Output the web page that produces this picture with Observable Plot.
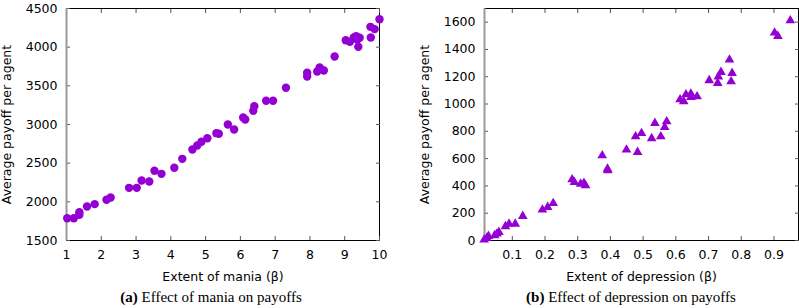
<!DOCTYPE html>
<html>
<head>
<meta charset="utf-8">
<script src="https://cdn.jsdelivr.net/npm/d3@7"></script>
<script src="https://cdn.jsdelivr.net/npm/@observablehq/plot@0.6"></script>
<style>
  html, body { margin: 0; padding: 0; background: #fff; }
  #wrap { position: relative; width: 799px; height: 308px; overflow: hidden; }
  .panel { position: absolute; top: 0; }
  .cap { position: absolute; font-family: "Liberation Serif", "Times New Roman", serif; font-size: 15px; color: #000; white-space: nowrap; transform: translateX(-50%); top: 289px; }
</style>
</head>
<body>
<div id="wrap">
  <div id="pa" class="panel" style="left:0px"></div>
  <div id="pb" class="panel" style="left:400px"></div>
  <div class="cap" style="left:211px"><b>(a)</b> Effect of mania on payoffs</div>
  <div class="cap" style="left:631px"><b>(b)</b> Effect of depression on payoffs</div>
</div>
<script>
// Panel (a): extent of mania vs average payoff
const maniaX = [1.02, 1.21, 1.37, 1.37, 1.59, 1.81, 2.15, 2.27, 2.80, 3.02, 3.16, 3.38, 3.53, 3.73, 4.10, 4.33, 4.62, 4.76, 4.88, 5.05, 5.31, 5.38,
  5.64, 5.82, 6.08, 6.14, 6.37, 6.40, 6.74, 6.94, 7.31, 7.92, 7.92, 8.21, 8.28, 8.40, 8.71, 9.03, 9.15, 9.26, 9.33, 9.43, 9.36, 9.39, 9.74, 9.86, 9.75, 10.0];
const maniaY = [1788, 1788, 1866, 1832, 1940, 1970, 2026, 2056, 2181, 2181, 2276, 2263, 2401, 2362, 2440, 2556, 2677, 2728, 2776, 2823, 2888, 2880,
  3000, 2935, 3091, 3065, 3177, 3237, 3307, 3307, 3475, 3621, 3670, 3686, 3737, 3698, 3879, 4090, 4069, 4125, 4142, 4121, 4099, 4005, 4263, 4233, 4125, 4362];
const maniaXTicks = [1, 2, 3, 4, 5, 6, 7, 8, 9, 10];
const maniaYTicks = [1500, 2000, 2500, 3000, 3500, 4000, 4500];

// Panel (b): extent of depression vs average payoff
const depX = [0.950, 0.902, 0.912, 0.764, 0.772, 0.769, 0.738, 0.730, 0.728, 0.702, 0.665, 0.646, 0.646, 0.631, 0.624, 0.613,
  0.572, 0.566, 0.554, 0.536, 0.526, 0.495, 0.477, 0.449, 0.483, 0.375, 0.391, 0.392, 0.283, 0.290, 0.309, 0.319, 0.324,
  0.225, 0.208, 0.192, 0.132, 0.109, 0.090, 0.079, 0.059, 0.053, 0.046, 0.027, 0.022, 0.014];
const depY = [1612, 1522, 1497, 1324, 1226, 1165, 1234, 1200, 1153, 1173, 1055, 1075, 1050, 1070, 1019, 1033,
  872, 830, 762, 860, 748, 786, 762, 665, 647, 623, 525, 513, 447, 427, 415, 420, 403,
  273, 244, 225, 178, 122, 122, 103, 61, 49, 37, 32, 17, 5];
const depXTicks = [0.1, 0.2, 0.3, 0.4, 0.5, 0.6, 0.7, 0.8, 0.9];
const depYTicks = [0, 200, 400, 600, 800, 1000, 1200, 1400, 1600];

const yLabel = "Average payoff per agent";
const purple = "#9400d3";
const font = "DejaVu Sans, sans-serif";

function panel({xs, ys, xd, yd, xt, yt, xfmt, xlabel, symbol, r, width, ml, mr}) {
  const data = xs.map((x, i) => ({x, y: ys[i]}));
  const svg = Plot.plot({
    width, height: 285,
    marginTop: 8, marginBottom: 45, marginLeft: ml, marginRight: mr,
    style: {fontFamily: font, fontSize: "12.5px", color: "#000", background: "#fff"},
    x: {domain: xd, ticks: xt},
    y: {domain: yd, ticks: yt},
    marks: [
      Plot.frame({stroke: "#000", strokeWidth: 1}),
      Plot.axisX({anchor: "bottom", ticks: xt, tickFormat: xfmt, tickSize: -4, tickPadding: 14, stroke: "#555",
        label: xlabel, labelAnchor: "center", labelOffset: 40, labelArrow: "none"}),
      Plot.axisX({anchor: "top", ticks: xt, tickSize: -4, tickFormat: () => "", label: null, stroke: "#555"}),
      Plot.axisY({anchor: "left", ticks: yt, tickFormat: "d", tickSize: -4, tickPadding: 13, stroke: "#555",
        label: yLabel, labelAnchor: "center", labelOffset: 64, labelArrow: "none"}),
      Plot.axisY({anchor: "right", ticks: yt, tickSize: -4, tickFormat: () => "", label: null, stroke: "#555"}),
      Plot.ruleX([xd[0]], {stroke: "#999", strokeWidth: 2}),
      Plot.dot(data, {x: "x", y: "y", r, symbol, fill: purple, stroke: null})
    ]
  });
  svg.querySelectorAll("[font-size]").forEach(e => e.setAttribute("font-size", "12.5"));
  svg.querySelectorAll("text").forEach(e => e.setAttribute("fill", "#000"));
  return svg;
}

document.getElementById("pa").append(panel({
  xs: maniaX, ys: maniaY, xd: [1, 10], yd: [1500, 4500], xt: maniaXTicks, yt: maniaYTicks, xfmt: "d",
  xlabel: "Extent of mania (β)", symbol: "circle", r: 4.2, width: 400, ml: 66, mr: 21
}));
document.getElementById("pb").append(panel({
  xs: depX, ys: depY, xd: [0.015, 0.975], yd: [0, 1700], xt: depXTicks, yt: depYTicks, xfmt: ".1f",
  xlabel: "Extent of depression (β)", symbol: "triangle", r: 3.6, width: 399, ml: 84, mr: 1
}));
</script>
</body>
</html>
